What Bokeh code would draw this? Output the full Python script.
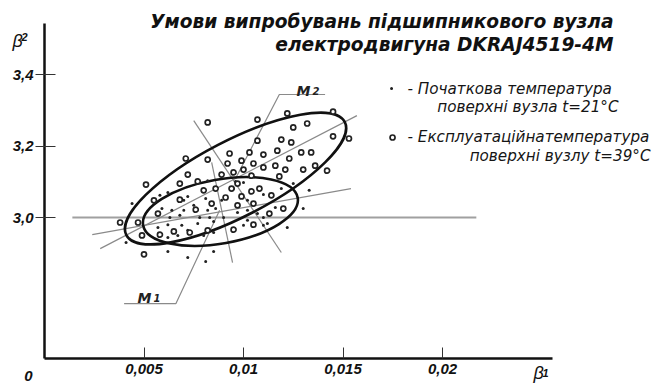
from bokeh.plotting import figure
from bokeh.models import Range1d, FixedTicker
from bokeh.embed import file_html
from bokeh.resources import INLINE
from bokeh.core.properties import value

# ---------------- data ----------------
# operating temperature t=39 C (open circles)
circ_x = [0.0082, 0.0071, 0.0082, 0.0093, 0.0092, 0.0072, 0.0089, 0.0095, 0.0107, 0.0122,
          0.0145, 0.0132, 0.0125, 0.0145, 0.0153, 0.0119, 0.0124, 0.0107, 0.0110, 0.0117,
          0.0129, 0.0134, 0.0103, 0.0099, 0.0105, 0.0123, 0.0110, 0.0116, 0.0130, 0.0136,
          0.0142, 0.0121, 0.0100, 0.0104, 0.0118, 0.0097, 0.0086, 0.0094, 0.0104, 0.0108,
          0.0114, 0.0080, 0.0084, 0.0091, 0.0099, 0.0105, 0.0097, 0.0120, 0.0113, 0.0105,
          0.0095, 0.0082, 0.0051, 0.0068, 0.0077, 0.0055, 0.0068, 0.0076, 0.0057, 0.0038,
          0.0047, 0.0049, 0.0058, 0.0065, 0.0073, 0.0050]
circ_y = [3.266, 3.165, 3.162, 3.179, 3.151, 3.120, 3.120, 3.126, 3.274, 3.291,
          3.296, 3.263, 3.252, 3.227, 3.221, 3.218, 3.210, 3.215, 3.176, 3.187,
          3.182, 3.182, 3.182, 3.159, 3.151, 3.165, 3.140, 3.145, 3.134, 3.145,
          3.131, 3.134, 3.134, 3.117, 3.115, 3.095, 3.081, 3.081, 3.073, 3.081,
          3.062, 3.076, 3.039, 3.056, 3.059, 3.039, 3.034, 3.025, 3.011, 2.980,
          2.966, 2.964, 3.092, 3.095, 3.101, 3.048, 3.050, 3.022, 3.011, 2.986,
          2.986, 2.950, 2.952, 2.961, 2.958, 2.897]

# initial temperature t=21 C (small dots)
dot_x = [0.0062, 0.0044, 0.0070, 0.0072, 0.0075, 0.0081, 0.0089, 0.0059, 0.0064, 0.0070,
         0.0082, 0.0086, 0.0063, 0.0068, 0.0078, 0.0083, 0.0057, 0.0062, 0.0069, 0.0077,
         0.0085, 0.0062, 0.0067, 0.0080, 0.0085, 0.0041, 0.0062, 0.0072, 0.0081, 0.0082,
         0.0095, 0.0100, 0.0110, 0.0125, 0.0133, 0.0116, 0.0130, 0.0097, 0.0102, 0.0110,
         0.0100, 0.0110, 0.0122, 0.0085, 0.0058, 0.0090, 0.0102, 0.0107, 0.0112, 0.0072,
         0.0119, 0.0102, 0.0096]
dot_y = [3.070, 3.039, 3.048, 3.059, 3.034, 3.053, 3.048, 3.025, 3.020, 3.020,
         3.020, 3.025, 3.000, 3.006, 3.000, 3.000, 2.972, 2.980, 2.978, 2.983,
         2.989, 2.944, 2.950, 2.950, 2.958, 2.930, 2.905, 2.888, 2.877, 3.103,
         3.081, 3.098, 3.064, 3.095, 3.076, 3.028, 3.025, 3.014, 3.020, 3.000,
         2.978, 2.978, 2.972, 2.905, 3.062, 3.000, 2.992, 3.011, 2.983, 2.964,
         3.081, 3.048, 3.101]

# confidence ellipses M1 (t=21) and M2 (t=39)
ell_cx = [0.00884, 0.0096]
ell_cy = [3.0168, 3.109]
ell_w = [0.00789, 0.01236]
ell_h = [0.179, 0.2126]
ell_angle = [0.176, 0.478]

# principal axes of the ellipses
axes_x = [[0.0024, 0.0154], [0.0028, 0.0157], [0.0084, 0.00945], [0.0075, 0.0119]]
axes_y = [[2.952, 3.081], [2.913, 3.285], [3.154, 2.874], [3.271, 2.902]]
ref_x = [0.0014, 0.0217]
ref_y = [3.0, 3.0]

# leader lines for labels
lead_x = [[0.0040, 0.0066, 0.0088], [0.0141, 0.0118, 0.0096]]
lead_y = [[2.759, 2.759, 3.020], [3.344, 3.344, 3.109]]

x_ticks = [0.005, 0.01, 0.015, 0.02]
x_tick_labels = ["0,005", "0,01", "0,015", "0,02"]
y_ticks = [3.0, 3.2, 3.4]
y_tick_labels = ["3,0", "3,2", "3,4"]
x_axis_end = 0.02553
y_axis_bottom = 2.6056
y_axis_top = 3.5426

title_lines = ["Умови випробувань підшипникового вузла", "електродвигуна DKRAJ4519-4M"]
legend_lines = ["- Початкова температура", "поверхні вузла t=21°С",
                "- Експлуатаційнатемпература", "поверхні вузлу t=39°С"]

# ---------------- layout ----------------
W, H = 653, 385
PX_X = 19900.0   # pixels per x unit
PX_Y = 357.5     # pixels per y unit
x_start = -44 / PX_X
x_end = x_start + W / PX_X
y_end = 3.0 + 217 / PX_Y
y_start = y_end - H / PX_Y

FONT = "Liberation Sans"
WIDE = "DejaVu Sans"

p = figure(width=W, height=H, output_backend="svg", toolbar_location=None,
           x_range=Range1d(x_start, x_end), y_range=Range1d(y_start, y_end),
           min_border=0, background_fill_color="white", border_fill_color="white")
p.outline_line_color = None
p.xgrid.visible = False
p.ygrid.visible = False

for ax in (p.xaxis, p.yaxis):
    ax.axis_line_width = 2.5
    ax.axis_line_color = "#111111"
    ax.major_tick_line_color = "#333333"
    ax.major_tick_line_width = 1
    ax.minor_tick_line_color = None
    ax.major_label_text_font = FONT
    ax.major_label_text_font_style = "bold italic"
    ax.major_label_text_font_size = "15px"
    ax.major_label_text_color = "#111111"

p.xaxis.fixed_location = y_axis_bottom
p.xaxis.ticker = FixedTicker(ticks=x_ticks)
p.xaxis.major_label_overrides = dict(zip(x_ticks, x_tick_labels))
p.xaxis.bounds = (0, x_axis_end)
p.xaxis.major_tick_in = 11
p.xaxis.major_tick_out = 0
p.xaxis.major_label_standoff = 6

p.yaxis.fixed_location = 0
p.yaxis.ticker = FixedTicker(ticks=y_ticks)
p.yaxis.major_label_overrides = dict(zip(y_ticks, y_tick_labels))
p.yaxis.bounds = (y_axis_bottom, y_axis_top)
p.yaxis.major_tick_in = 11
p.yaxis.major_tick_out = 9
p.yaxis.major_label_standoff = 2

# reference lines
p.line(ref_x, ref_y, line_color="#a0a0a0", line_width=2)
p.multi_line(axes_x, axes_y, line_color="#8a8a8a", line_width=1.2)
p.multi_line(lead_x, lead_y, line_color="#8a8a8a", line_width=1.2)

# ellipses
p.ellipse(x=ell_cx, y=ell_cy, width=ell_w, height=ell_h, angle=ell_angle,
          fill_color=None, line_color="#111111", line_width=2.6)

# points
p.scatter(dot_x, dot_y, marker="circle", size=3, fill_color="#222222", line_color=None)
p.scatter(circ_x, circ_y, marker="circle", size=5, fill_color="white",
          line_color="#222222", line_width=1.7)

# title
p.text(x=[0.028593, 0.028593], y=[3.54825, 3.48392], text=title_lines,
       text_font=value(WIDE), text_font_style="bold italic", text_font_size=value("18.6px"),
       text_align="right", text_baseline="middle", text_color="#111111")

# legend
p.scatter([0.01744], [3.3608], marker="circle", size=3, fill_color="#222222", line_color=None)
p.scatter([0.01749], [3.2238], marker="circle", size=5, fill_color="white",
          line_color="#222222", line_width=1.7)
p.text(x=[0.018241, 0.018241], y=[3.3608, 3.2238], text=[legend_lines[0], legend_lines[2]],
       text_font=value(WIDE), text_font_style="italic", text_font_size=value("15.2px"),
       text_align="left", text_baseline="middle", text_color="#151515")
p.text(x=[0.028844, 0.030452], y=[3.3077, 3.1734], text=[legend_lines[1], legend_lines[3]],
       text_font=value(WIDE), text_font_style="italic", text_font_size=value("15.2px"),
       text_align="right", text_baseline="middle", text_color="#151515")

# M labels
p.text(x=[0.004673, 0.012663], y=[2.77343, 3.35245], text=["M", "M"],
       text_font=value(WIDE), text_font_style="bold italic", text_font_size=value("14px"),
       text_align="left", text_baseline="alphabetic", text_color="#222222")
p.text(x=[0.005477, 0.013467], y=[2.77343, 3.35245], text=["1", "2"],
       text_font=value(WIDE), text_font_style="bold italic", text_font_size=value("10px"),
       text_align="left", text_baseline="alphabetic", text_color="#222222")

# axis names and origin
p.text(x=[-0.001608, 0.024573], y=[3.49510, 2.56364], text=["β", "β"],
       text_font=value(FONT), text_font_style="italic", text_font_size=value("18px"),
       text_align="left", text_baseline="alphabetic", text_color="#111111")
p.text(x=[-0.001156, 0.025025], y=[3.50629, 2.56364], text=["2", "1"],
       text_font=value(FONT), text_font_style="bold italic", text_font_size=value("11px"),
       text_align="left", text_baseline="alphabetic", text_color="#111111")
p.text(x=[-0.000804], y=[2.55804], text=["0"],
       text_font=value(FONT), text_font_style="bold italic", text_font_size=value("15px"),
       text_align="center", text_baseline="alphabetic", text_color="#111111")

open("out.html", "w").write(file_html(p, INLINE))
